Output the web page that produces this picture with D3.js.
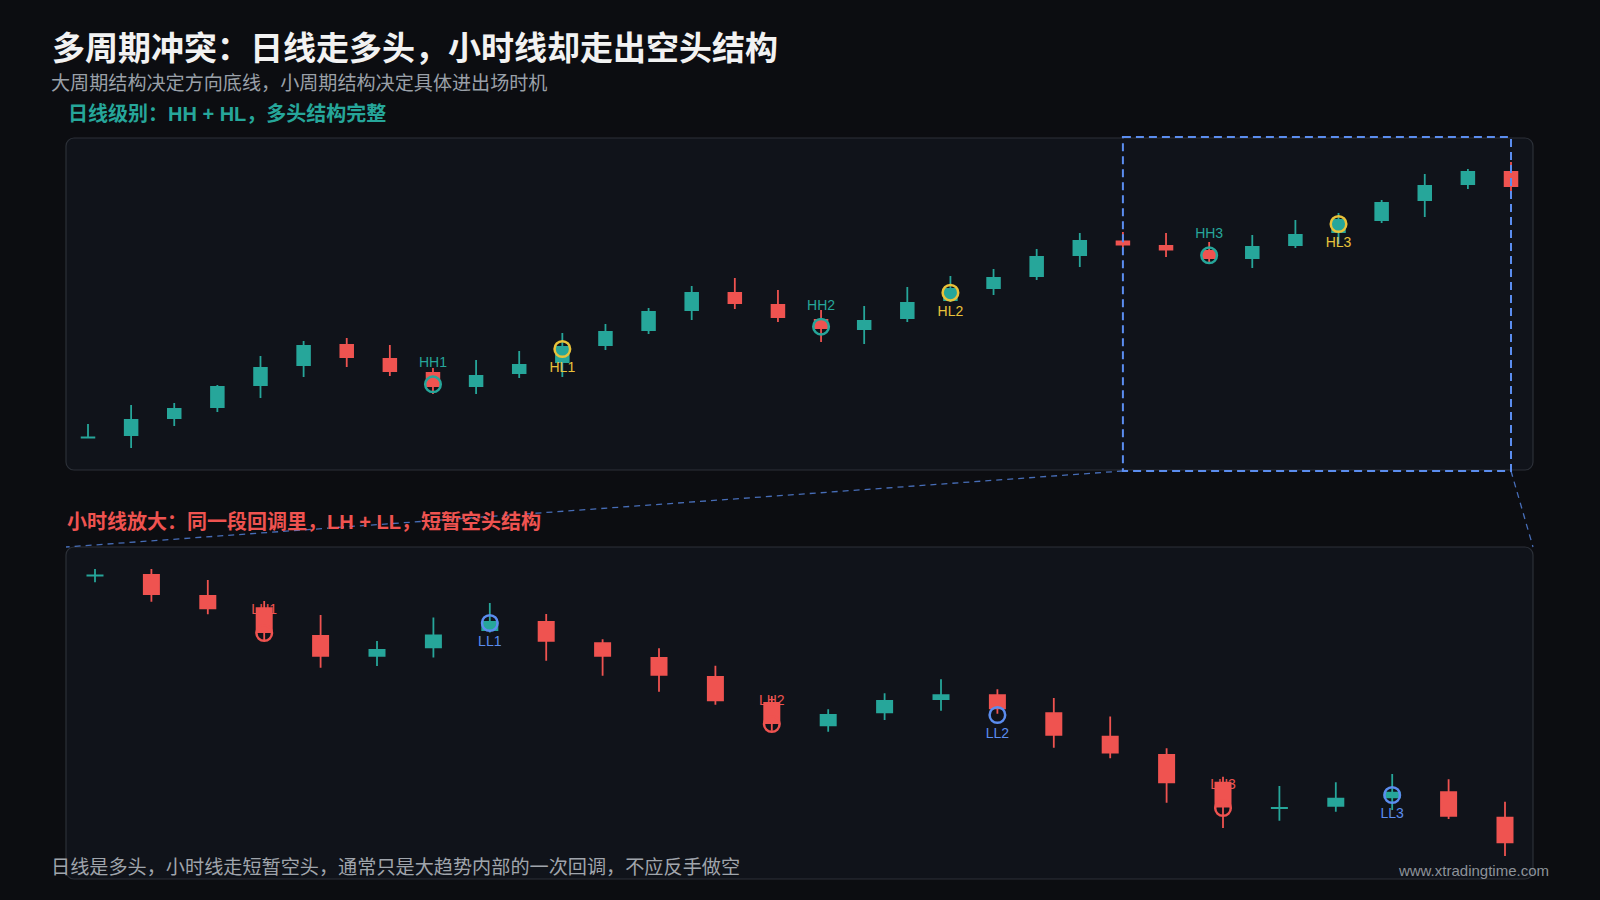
<!DOCTYPE html>
<html>
<head>
<meta charset="utf-8">
<script src="https://cdn.jsdelivr.net/npm/d3@7"></script>
<style>
  html, body { margin: 0; padding: 0; background: #0c0d11; }
  svg { display: block; }
  text { font-family: "Liberation Sans", "Noto Sans CJK SC", sans-serif; }
</style>
</head>
<body>
<svg id="chart" width="1600" height="900"></svg>
<script>
// ---------- Data ----------
const titleText = "多周期冲突：日线走多头，小时线却走出空头结构";
const subtitleText = "大周期结构决定方向底线，小周期结构决定具体进出场时机";
const dailyLabelText = "日线级别：HH + HL，多头结构完整";
const hourlyLabelText = "小时线放大：同一段回调里，LH + LL，短暂空头结构";
const footerText = "日线是多头，小时线走短暂空头，通常只是大趋势内部的一次回调，不应反手做空";
const watermarkText = "www.xtradingtime.com";

// Daily candles (34 bars)
const dailyOpen  = [101.25,101.4,103.1,104.2,106.4,108.4,110.6,109.2,107.8,106.3,107.6,108.7,110.4,111.9,113.9,115.8,114.6,113.1,112.0,113.1,114.9,116.1,117.3,119.4,120.95,120.5,120.0,119.1,120.4,121.7,122.9,124.9,126.5,127.9];
const dailyHigh  = [102.6,104.5,104.7,106.5,109.4,110.9,111.2,110.5,108.2,109.0,109.9,111.7,112.6,114.2,116.4,117.2,116.0,114.0,114.4,116.3,117.4,118.1,120.1,121.7,121.8,121.7,120.8,121.5,123.0,123.7,125.0,127.6,128.1,128.8];
const dailyLow   = [101.2,100.2,102.4,103.8,105.2,107.3,108.3,107.4,105.6,105.6,107.2,107.3,110.0,111.6,113.0,114.1,112.8,110.8,110.6,112.8,114.8,115.5,117.0,118.3,120.2,119.3,118.7,118.2,120.2,120.6,122.7,123.3,126.1,125.8];
const dailyClose = [101.35,103.1,104.2,106.4,108.3,110.5,109.2,107.8,106.3,107.5,108.6,110.4,111.9,113.9,115.8,114.6,113.2,112.1,113.0,114.8,116.2,117.3,119.4,121.0,120.45,119.95,119.1,120.4,121.6,123.1,124.8,126.5,127.9,126.3];

// Daily swing markers
const dailyMarkerIndex = [8, 11, 17, 20, 26, 29];
const dailyMarkerPrice = [106.57, 110.1, 112.33, 115.73, 119.47, 122.6];
const dailyMarkerLabel = ["HH1", "HL1", "HH2", "HL2", "HH3", "HL3"];

// Zoom window on daily chart (bar index range)
const zoomStart = 24, zoomEnd = 33;

// Hourly candles (26 bars)
const hourOpen  = [127.48,127.54,126.7,126.21,125.1,124.23,124.57,125.26,125.66,124.81,124.22,123.46,122.42,121.45,121.97,122.5,122.73,122.01,121.07,120.34,119.23,118.18,118.23,118.57,118.85,117.83];
const hourHigh  = [127.74,127.74,127.3,126.46,125.9,124.86,125.8,126.38,125.94,124.93,124.57,123.87,122.66,122.13,122.77,123.33,122.93,122.58,121.84,120.57,119.43,119.06,119.21,119.54,119.33,118.43];
const hourLow   = [127.21,126.43,125.93,124.9,123.79,123.86,124.2,125.2,124.07,123.47,122.83,122.31,121.27,121.23,121.7,122.07,121.95,120.59,120.17,118.39,117.38,117.67,118.03,118.1,117.74,116.26];
const hourClose = [127.52,126.7,126.13,125.18,124.23,124.54,125.12,125.66,124.83,124.23,123.47,122.45,121.54,121.94,122.5,122.73,122.13,121.07,120.36,119.17,118.2,118.22,118.59,118.83,117.83,116.77];

// Hourly swing markers
const hourMarkerIndex = [3, 7, 12, 16, 20, 23];
const hourMarkerPrice = [125.18, 125.58, 121.54, 121.9, 118.18, 118.7];
const hourMarkerLabel = ["LH1", "LL1", "LH2", "LL2", "LH3", "LL3"];

// ---------- Styles ----------
const UP = "#26a69a", DOWN = "#ef5350", YEL = "#e8c23a", BLUE = "#5b8def";
const markerStyle = {
  HH: { color: UP,   dy: -22 },
  HL: { color: YEL,  dy: 18 },
  LH: { color: DOWN, dy: -24 },
  LL: { color: BLUE, dy: 18 }
};

const svg = d3.select("#chart");
svg.append("rect").attr("width", 1600).attr("height", 900).attr("fill", "#0c0d11");

// Panels
const topPanel = { x: 66, y: 138, w: 1467, h: 332 };
const botPanel = { x: 66, y: 547, w: 1467, h: 332 };
[topPanel, botPanel].forEach(p => {
  svg.append("rect").attr("x", p.x).attr("y", p.y).attr("width", p.w).attr("height", p.h)
    .attr("rx", 8).attr("fill", "#10131a").attr("stroke", "#2c3038").attr("stroke-width", 1.2);
});

// Texts
svg.append("text").attr("x", 52).attr("y", 60).attr("fill", "#f2f2f2")
  .attr("font-size", 33).attr("font-weight", 700).text(titleText);
svg.append("text").attr("x", 51).attr("y", 90).attr("fill", "#9aa0a8")
  .attr("font-size", 19.1).text(subtitleText);
svg.append("text").attr("x", 68).attr("y", 120.5).attr("fill", UP)
  .attr("font-size", 20).attr("font-weight", 700).text(dailyLabelText);

// Scales
const xD = d3.scalePoint().domain(d3.range(dailyOpen.length)).range([88, 1511]);
const yD = d3.scaleLinear().domain([98, 131]).range([470, 140]);
const xH = d3.scalePoint().domain(d3.range(hourOpen.length)).range([95, 1505]);
const yH = d3.scaleLinear().domain([115.5, 128.5]).range([875, 550]);

function drawCandles(g, o, h, l, c, x, y, bw) {
  const data = o.map((v, i) => ({ i, o: v, h: h[i], l: l[i], c: c[i] }));
  const col = d => d.c >= d.o ? UP : DOWN;
  const gg = g.selectAll("g.c").data(data).join("g").attr("class", "c");
  gg.append("line")
    .attr("x1", d => x(d.i)).attr("x2", d => x(d.i))
    .attr("y1", d => y(d.h)).attr("y2", d => y(d.l))
    .attr("stroke", col).attr("stroke-width", 1.8);
  gg.append("rect")
    .attr("x", d => x(d.i) - bw / 2).attr("width", bw)
    .attr("y", d => Math.min(y(d.o), y(d.c)))
    .attr("height", d => Math.max(2, Math.abs(y(d.o) - y(d.c))))
    .attr("fill", col);
}

function drawMarkers(g, idx, price, labels, x, y) {
  const data = idx.map((v, k) => ({ i: v, p: price[k], label: labels[k], s: markerStyle[labels[k].slice(0, 2)] }));
  g.selectAll("circle.m").data(data).join("circle").attr("class", "m")
    .attr("cx", d => x(d.i)).attr("cy", d => y(d.p)).attr("r", 7.8)
    .attr("fill", "none").attr("stroke", d => d.s.color).attr("stroke-width", 2.5);
  g.selectAll("text.m").data(data).join("text").attr("class", "m")
    .attr("x", d => x(d.i)).attr("y", d => y(d.p) + d.s.dy)
    .attr("text-anchor", "middle").attr("dominant-baseline", "central")
    .attr("font-size", 14).attr("fill", d => d.s.color).text(d => d.label);
}

const gTop = svg.append("g");
drawCandles(gTop, dailyOpen, dailyHigh, dailyLow, dailyClose, xD, yD, 14.5);
drawMarkers(gTop, dailyMarkerIndex, dailyMarkerPrice, dailyMarkerLabel, xD, yD);

// Zoom window + connectors
const zx0 = xD(zoomStart), zx1 = xD(zoomEnd);
const zy0 = topPanel.y - 1, zy1 = topPanel.y + topPanel.h + 1;
svg.append("line").attr("x1", zx0).attr("y1", zy1).attr("x2", botPanel.x).attr("y2", botPanel.y)
  .attr("stroke", BLUE).attr("stroke-opacity", 0.75).attr("stroke-width", 1.3).attr("stroke-dasharray", "6,5");
svg.append("line").attr("x1", zx1).attr("y1", zy1).attr("x2", botPanel.x + botPanel.w).attr("y2", botPanel.y)
  .attr("stroke", BLUE).attr("stroke-opacity", 0.75).attr("stroke-width", 1.3).attr("stroke-dasharray", "6,5");
svg.append("rect").attr("x", zx0).attr("y", zy0).attr("width", zx1 - zx0).attr("height", zy1 - zy0)
  .attr("fill", "none").attr("stroke", BLUE).attr("stroke-width", 2).attr("stroke-dasharray", "8,5");

svg.append("text").attr("x", 67).attr("y", 528.5).attr("fill", DOWN)
  .attr("font-size", 20).attr("font-weight", 700).text(hourlyLabelText);

const gBot = svg.append("g");
drawCandles(gBot, hourOpen, hourHigh, hourLow, hourClose, xH, yH, 17);
drawMarkers(gBot, hourMarkerIndex, hourMarkerPrice, hourMarkerLabel, xH, yH);

svg.append("text").attr("x", 51).attr("y", 873.5).attr("fill", "#a0a5ac")
  .attr("font-size", 19.15).text(footerText);
svg.append("text").attr("x", 1549).attr("y", 876).attr("text-anchor", "end").attr("fill", "#8d9299")
  .attr("font-size", 15).text(watermarkText);
</script>
</body>
</html>
